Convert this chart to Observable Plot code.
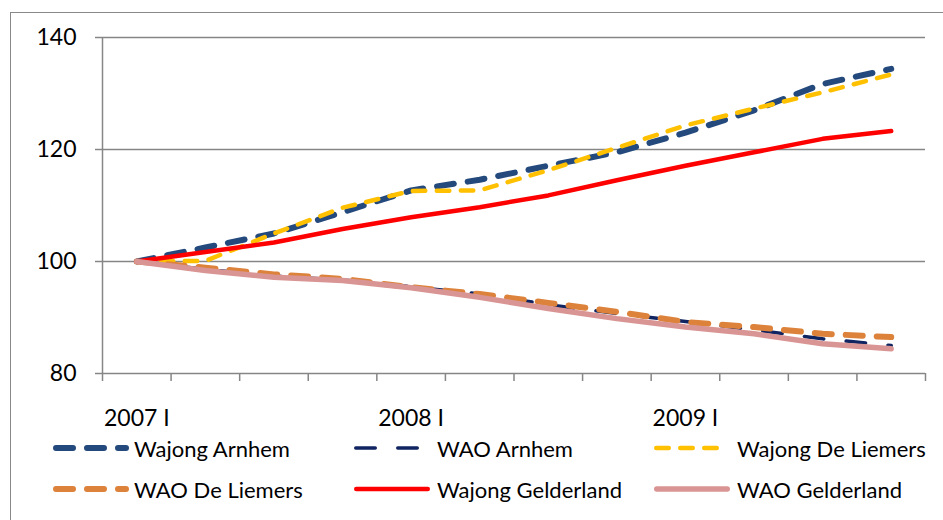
<!DOCTYPE html>
<html>
<head>
<meta charset="utf-8">
<script src="https://cdn.jsdelivr.net/npm/d3@7"></script>
<script src="https://cdn.jsdelivr.net/npm/@observablehq/plot@0.6"></script>
<style>
  html, body { margin: 0; padding: 0; background: #fff; overflow: hidden; }
  body { width: 943px; height: 520px; position: relative; font-family: Lato, "Open Sans", sans-serif; }
  #frame { position: absolute; left: 10px; top: 12px; width: 1000px; height: 600px; border: 1.5px solid #898989; box-sizing: border-box; }
  #chart { position: absolute; left: 0; top: 0; }
  .leg { position: absolute; display: flex; align-items: center; font-size: 22px; color: #000; white-space: nowrap; }
  .leg svg { display: block; }
</style>
</head>
<body>
<div id="frame"></div>
<div id="chart"></div>
<div id="legend"></div>
<script>
const quarters = ["2007 I","2007 II","2007 III","2007 IV","2008 I","2008 II","2008 III","2008 IV","2009 I","2009 II","2009 III","2009 IV"];
const yTicks = [80, 100, 120, 140];
const wajongArnhem      = [100, 102.5, 105.0, 108.8, 112.7, 114.6, 117.1, 119.5, 123.0, 127.0, 131.7, 134.4];
const waoArnhem         = [100, 98.6, 97.4, 96.7, 95.5, 94.2, 92.3, 90.7, 89.3, 87.8, 86.2, 85.0];
const wajongDeLiemers   = [100, 100.1, 105.0, 109.6, 112.6, 112.7, 116.3, 120.3, 124.3, 127.3, 130.2, 133.4];
const waoDeLiemers      = [100, 98.9, 97.7, 96.9, 95.4, 94.2, 92.6, 91.0, 89.2, 88.3, 87.1, 86.5];
const wajongGelderland  = [100, 101.7, 103.4, 105.8, 107.9, 109.7, 111.8, 114.5, 117.1, 119.5, 121.9, 123.3];
const waoGelderland     = [100, 98.4, 97.2, 96.6, 95.3, 93.6, 91.6, 89.8, 88.3, 87.1, 85.3, 84.4];

const series = [
  {name: "Wajong Arnhem",     values: wajongArnhem,     color: "#24497c", width: 6,   dash: "17,14"},
  {name: "WAO Arnhem",        values: waoArnhem,        color: "#0f2461", width: 3.5, dash: "19.5,22.5"},
  {name: "Wajong De Liemers", values: wajongDeLiemers,  color: "#ffc000", width: 4.5, dash: "12.5,11.5"},
  {name: "WAO De Liemers",    values: waoDeLiemers,     color: "#dd823a", width: 6,   dash: "17,14"},
  {name: "Wajong Gelderland", values: wajongGelderland, color: "#ff0000", width: 4.5, dash: null},
  {name: "WAO Gelderland",    values: waoGelderland,    color: "#d99594", width: 5.5, dash: null}
];

const idx = quarters.map((q, i) => i);
const grey = "#868686";
const tickPos = d3.range(quarters.length + 1).map(i => i - 0.5);
const labelIdx = idx.filter(i => quarters[i].endsWith(" I"));

const lineMarks = series.map(s => Plot.line(s.values.map((v, i) => ({i, v})), {
  x: "i", y: "v", stroke: s.color, strokeWidth: s.width,
  strokeDasharray: s.dash || undefined, strokeLinecap: "round", strokeLinejoin: "round"
}));

const chart = Plot.plot({
  width: 943, height: 430,
  marginLeft: 102, marginRight: 18, marginTop: 37, marginBottom: 57,
  x: {domain: [-0.5, quarters.length - 0.5], axis: null},
  y: {domain: [80, 140], axis: null},
  style: {fontFamily: "Lato, 'Open Sans', sans-serif", fontSize: "23px", color: "#000", background: "transparent", overflow: "visible"},
  marks: [
    Plot.gridY(yTicks.filter(t => t > 80), {stroke: grey, strokeOpacity: 1, strokeWidth: 1.5}),
    Plot.ruleY([80], {stroke: grey, strokeWidth: 1.5}),
    Plot.ruleX([-0.5], {stroke: grey, strokeWidth: 1.5}),
    Plot.axisY({ticks: yTicks, tickSize: 7, tickPadding: 19, stroke: grey, strokeWidth: 1.5, fill: "#000", label: null, fontSize: 23}),
    Plot.axisX({ticks: tickPos, tickSize: 8, tickFormat: () => "", stroke: grey, strokeWidth: 1.5, label: null}),
    Plot.axisX({ticks: labelIdx, tickSize: 0, tickPadding: 36, tickFormat: i => quarters[i], fill: "#000", label: null, fontSize: 23}),
    ...lineMarks
  ]
});
document.getElementById("chart").appendChild(chart);

// legend below the plot
const legendPos = [
  {x: 53, y: 448}, {x: 354, y: 448}, {x: 654, y: 448},
  {x: 53, y: 489}, {x: 354, y: 489}, {x: 654, y: 489}
];
const legend = document.getElementById("legend");
series.forEach((s, k) => {
  const p = legendPos[k];
  const div = document.createElement("div");
  div.className = "leg";
  div.style.left = p.x + "px";
  div.style.top = (p.y - 15) + "px";
  div.style.height = "30px";
  const sw = 76;
  div.innerHTML = `<svg width="${sw}" height="30"><line x1="${s.width/2}" y1="15" x2="${sw - s.width/2}" y2="15" stroke="${s.color}" stroke-width="${s.width}" stroke-linecap="round" ${s.dash ? `stroke-dasharray="${s.dash}"` : ""}/></svg><span style="margin-left:${k % 3 === 0 ? 5 : 7}px">${s.name}</span>`;
  legend.appendChild(div);
});
</script>
</body>
</html>
